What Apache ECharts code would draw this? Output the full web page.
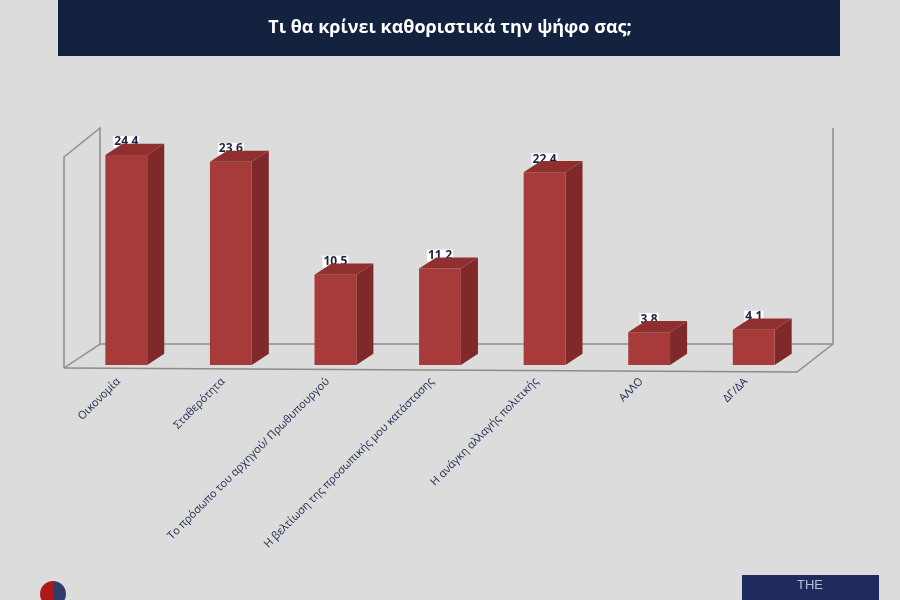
<!DOCTYPE html>
<html>
<head>
<meta charset="utf-8">
<script src="https://cdn.jsdelivr.net/npm/echarts@6/dist/echarts.min.js"></script>
<style>
html,body{margin:0;padding:0;background:#dcdcdc;}
#chart{width:900px;height:600px;}
</style>
</head>
<body>
<div id="chart"></div>
<script>
const titleText = 'Τι θα κρίνει καθοριστικά την ψήφο σας;';
const categories = ['Οικονομία', 'Σταθερότητα', 'Το πρόσωπο του αρχηγού/ Πρωθυπουργού', 'Η βελτίωση της προσωπικής μου κατάστασης', 'Η ανάγκη αλλαγής πολιτικής', 'ΑΛΛΟ', 'ΔΓ/ΔΑ'];
const values = [24.4, 23.6, 10.5, 11.2, 22.4, 3.8, 4.1];

const chart = echarts.init(document.getElementById('chart'));

function fmt(v){ return v.toFixed(1).replace('.', ','); }

function renderBar(params, api){
  const idx = api.value(0);
  const val = api.value(1);
  const top = api.coord([idx, val]);
  const base = api.coord([idx, 0]);
  const bw = api.size([1, 0])[0];
  const w = bw * 0.4;
  const dx = bw * 0.163, dy = -bw * 0.107;
  const x0 = top[0] - w / 2, x1 = top[0] + w / 2;
  const yt = top[1], yb = base[1];
  return {
    type: 'group',
    children: [
      { type: 'polygon', shape: { points: [[x1, yt], [x1 + dx, yt + dy], [x1 + dx, yb + dy], [x1, yb]] },
        style: { fill: '#80292a' } },
      { type: 'rect', shape: { x: x0, y: yt, width: w, height: yb - yt },
        style: { fill: '#a63b3a' } },
      { type: 'text', style: { text: fmt(val), x: top[0], y: yt - 13, align: 'center', verticalAlign: 'middle',
        font: 'bold 12px "Open Sans", "Noto Sans", sans-serif', fill: '#1b2440', backgroundColor: '#ffffff', padding: [0, 1, 0, 1] } },
      { type: 'polygon', shape: { points: [[x0, yt], [x0 + dx, yt + dy], [x1 + dx, yt + dy], [x1, yt]] },
        style: { fill: '#8f2f2f' } }
    ]
  };
}

function renderWalls(params, api){
  const cs = params.coordSys;
  const L = cs.x, R = cs.x + cs.width, B = cs.y + cs.height;
  const fl = [L - 10, B + 3], flt = [L - 10, B - 208];
  const bl = [L + 26, B - 21], blt = [L + 26, B - 237];
  const br = [R + 27, B - 21], brt = [R + 27, B - 237];
  const fr = [R - 9, B + 7];
  const st = { stroke: '#8c8c8c', lineWidth: 1.5, fill: null };
  return {
    type: 'group',
    children: [
      { type: 'polyline', shape: { points: [fl, flt, blt, bl, fl] }, style: st },
      { type: 'polyline', shape: { points: [bl, br, brt] }, style: st },
      { type: 'polyline', shape: { points: [fl, fr, br] }, style: st }
    ]
  };
}

chart.setOption({
  backgroundColor: '#dcdcdc',
  animation: false,
  title: {
    text: titleText,
    left: 'center',
    top: 14,
    textStyle: { color: '#ffffff', fontSize: 18, fontWeight: 'bold', fontFamily: '"Open Sans", "Noto Sans", sans-serif' }
  },
  graphic: [
    { type: 'rect', z: -1, shape: { x: 58, y: 0, width: 782, height: 56 }, style: { fill: '#13233f' } },
    { type: 'sector', shape: { cx: 53, cy: 594, r: 13, startAngle: Math.PI / 2, endAngle: Math.PI * 1.5 }, style: { fill: '#b0191c' } },
    { type: 'sector', shape: { cx: 53, cy: 594, r: 13, startAngle: -Math.PI / 2, endAngle: Math.PI / 2 }, style: { fill: '#2f3d6b' } },
    { type: 'rect', shape: { x: 742, y: 575, width: 137, height: 30 }, style: { fill: '#1e2b5c' } },
    { type: 'text', style: { text: 'THE', x: 810, y: 585, align: 'center', verticalAlign: 'middle', font: '13px "Liberation Sans", sans-serif', fill: '#b9bfd3' } }
  ],
  grid: { left: 74, right: 94, top: 124, bottom: 235 },
  xAxis: {
    type: 'category',
    data: categories,
    axisLine: { show: false },
    axisTick: { show: false },
    axisLabel: {
      interval: 0, rotate: 45, margin: 7, padding: [0, 11, 0, 0],
      color: '#1b2750', fontSize: 11, fontWeight: 500,
      fontFamily: '"Open Sans", "Noto Sans", sans-serif'
    }
  },
  yAxis: { type: 'value', min: 0, max: 28, show: false, splitLine: { show: false } },
  series: [
    { type: 'custom', z: 1, renderItem: renderWalls, data: [[0, 0]], silent: true },
    { type: 'custom', z: 2, renderItem: renderBar, data: values.map((v, i) => [i, v]), encode: { x: 0, y: 1 } }
  ]
});
</script>
</body>
</html>
